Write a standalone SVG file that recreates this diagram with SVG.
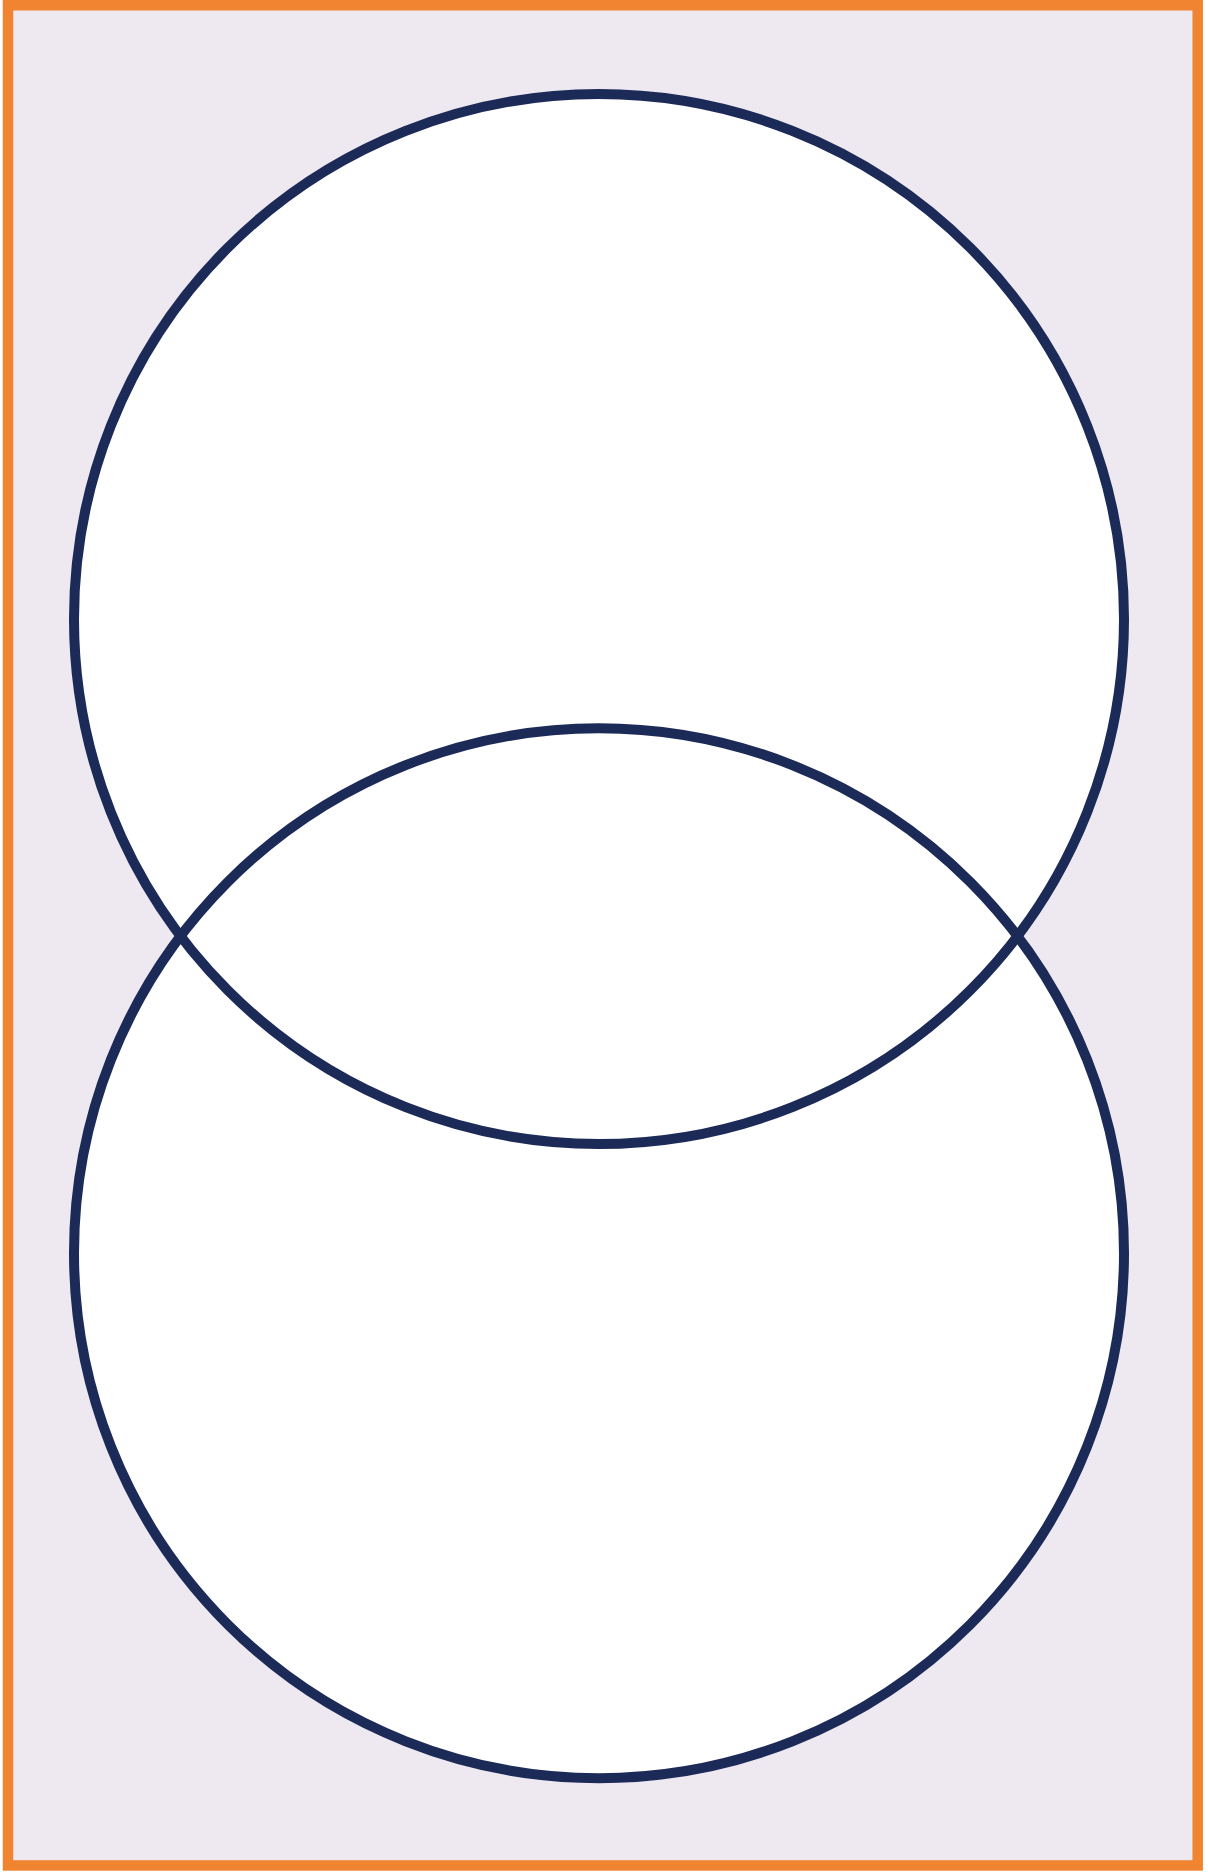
<svg xmlns="http://www.w3.org/2000/svg" width="1208" height="1873" viewBox="0 0 1208 1873">
<style>
.frame{fill:#eee8f0;stroke:#f08431;stroke-width:10.5}
.fillc{fill:#ffffff;stroke:none}
.ring{fill:none;stroke:#1c2a58;stroke-width:10}
</style>
<rect id="frame" class="frame" x="8" y="5.25" width="1189.7" height="1860.2"/>
<g id="circle-top-fill"><circle class="fillc" cx="599" cy="619" r="525"/></g>
<g id="circle-bottom-fill"><circle class="fillc" cx="599" cy="1253.2" r="525"/></g>
<g id="circle-top"><circle class="ring" cx="599" cy="619" r="525"/></g>
<g id="circle-bottom"><circle class="ring" cx="599" cy="1253.2" r="525"/></g>
</svg>
